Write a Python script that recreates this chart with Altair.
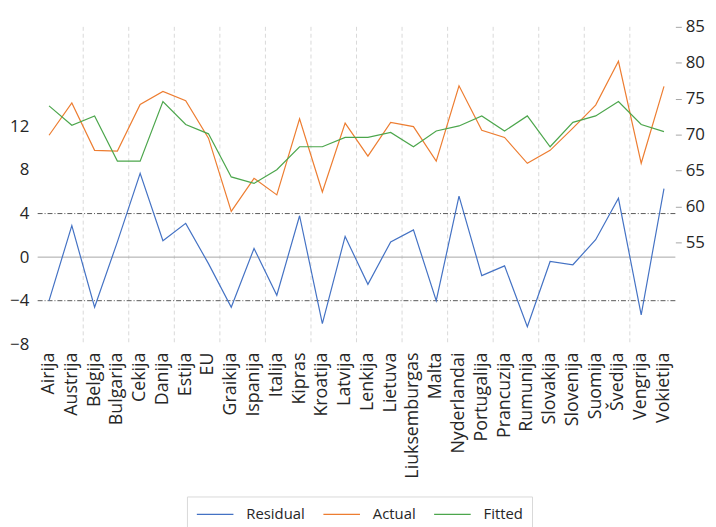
import altair as alt
import pandas as pd

categories = ["Airija", "Austrija", "Belgija", "Bulgarija", "Cekija", "Danija", "Estija", "EU",
              "Graikija", "Ispanija", "Italija", "Kipras", "Kroatija", "Latvija", "Lenkija",
              "Lietuva", "Liuksemburgas", "Malta", "Nyderlandai", "Portugalija", "Prancuzija",
              "Rumunija", "Slovakija", "Slovenija", "Suomija", "Švedija", "Vengrija", "Vokietija"]

residual = [-4.0, 2.9, -4.6, 1.4, 7.7, 1.5, 3.1, -0.6, -4.6, 0.8, -3.5, 3.8, -6.1, 1.9,
            -2.5, 1.4, 2.5, -4.0, 5.6, -1.7, -0.8, -6.4, -0.4, -0.7, 1.6, 5.4, -5.3, 6.3]

actual = [69.9, 74.4, 67.8, 67.7, 74.2, 76.0, 74.7, 69.5, 59.3, 63.9, 61.6, 72.2, 62.0, 71.6,
          67.0, 71.7, 71.1, 66.3, 76.8, 70.6, 69.6, 66.0, 67.8, 70.9, 74.1, 80.2, 66.0, 76.7]

fitted = [74.0, 71.3, 72.6, 66.3, 66.3, 74.6, 71.4, 70.1, 64.1, 63.2, 65.1, 68.3, 68.3, 69.6,
          69.6, 70.3, 68.3, 70.5, 71.2, 72.6, 70.5, 72.6, 68.3, 71.7, 72.6, 74.6, 71.4, 70.4]

se_bands = [-4.0, 4.0]
zero_line = [0.0]
left_ticks = [-8, -4, 0, 4, 8, 12]
right_ticks = [55, 60, 65, 70, 75, 80, 85]
left_domain = [-8, 21.15]
right_domain = [40.8, 85]
series_names = ["Residual", "Actual", "Fitted"]
series_colors = ["#4472C4", "#ED7D31", "#4CA64C"]
grid_categories = categories[2::2]

FONT = "Open Sans"
TXT = "#262626"

resid_df = pd.DataFrame({"country": categories, "value": residual, "series": "Residual"})
af_df = pd.concat([
    pd.DataFrame({"country": categories, "value": actual, "series": "Actual"}),
    pd.DataFrame({"country": categories, "value": fitted, "series": "Fitted"}),
], ignore_index=True)
grid_df = pd.DataFrame({"country": grid_categories})
zero_df = pd.DataFrame({"value": zero_line})
se_df = pd.DataFrame({"value": se_bands})

x_scale = alt.Scale(type="band", domain=categories, paddingInner=0, paddingOuter=0)
x_axis = alt.Axis(title=None, labelAngle=-90, labelFont=FONT, labelFontSize=18, labelColor=TXT,
                  ticks=False, tickSize=0, domain=False, grid=False, labelPadding=8,
                  labelOverlap=False, labelLimit=300)

left_scale = alt.Scale(domain=left_domain, nice=False, zero=False)
right_scale = alt.Scale(domain=right_domain, nice=False, zero=False)
left_axis = alt.Axis(title=None, orient="left", values=left_ticks, grid=False, domain=False,
                     ticks=False, tickSize=0, labelPadding=9, labelFont=FONT,
                     labelFontSize=17, labelColor=TXT)
right_axis = alt.Axis(title=None, orient="right", values=right_ticks, grid=False, domain=False,
                      ticks=True, tickSize=6, tickColor="#A6A6A6", labelPadding=4,
                      labelFont=FONT, labelFontSize=17, labelColor=TXT)

legend = alt.Legend(title=None, orient="none", legendX=151, legendY=475, direction="horizontal",
                    symbolType="stroke", symbolSize=1369, symbolStrokeWidth=1.3,
                    clipHeight=18,
                    labelFont=FONT, labelFontSize=15, labelColor=TXT, labelOffset=12,
                    columnPadding=17, strokeColor="#D9D9D9", padding=9)
color = alt.Color("series:N", scale=alt.Scale(domain=series_names, range=series_colors), legend=legend)

x_grid = alt.X("country:N", scale=x_scale, bandPosition=0, axis=x_axis)
x_line = alt.X("country:N", scale=x_scale, bandPosition=0.5, axis=x_axis)

grid = alt.Chart(grid_df).mark_rule(color="#D9D9D9", strokeWidth=1, strokeDash=[4, 3]).encode(
    x=x_grid
)

zero_rule = alt.Chart(zero_df).mark_rule(color="#A6A6A6", strokeWidth=1).encode(
    y=alt.Y("value:Q", scale=left_scale, axis=left_axis)
)

se_rule = alt.Chart(se_df).mark_rule(color="#595959", strokeWidth=1, strokeDash=[5, 2, 1, 2]).encode(
    y=alt.Y("value:Q", scale=left_scale, axis=left_axis)
)

resid_line = alt.Chart(resid_df).mark_line(strokeWidth=1.2).encode(
    x=x_line,
    y=alt.Y("value:Q", scale=left_scale, axis=left_axis),
    color=color,
)

left = alt.layer(grid, zero_rule, se_rule, resid_line)

right = alt.Chart(af_df).mark_line(strokeWidth=1.2).encode(
    x=x_line,
    y=alt.Y("value:Q", scale=right_scale, axis=right_axis),
    color=color,
)

chart = alt.layer(left, right).resolve_scale(y="independent").properties(
    width=645, height=321, autosize="none", background="white",
    padding={"left": 30, "top": 16, "right": 33, "bottom": 200},
).configure_view(stroke=None, strokeWidth=0)

chart.save("out.html", embed_options={"renderer": "svg", "actions": False})
